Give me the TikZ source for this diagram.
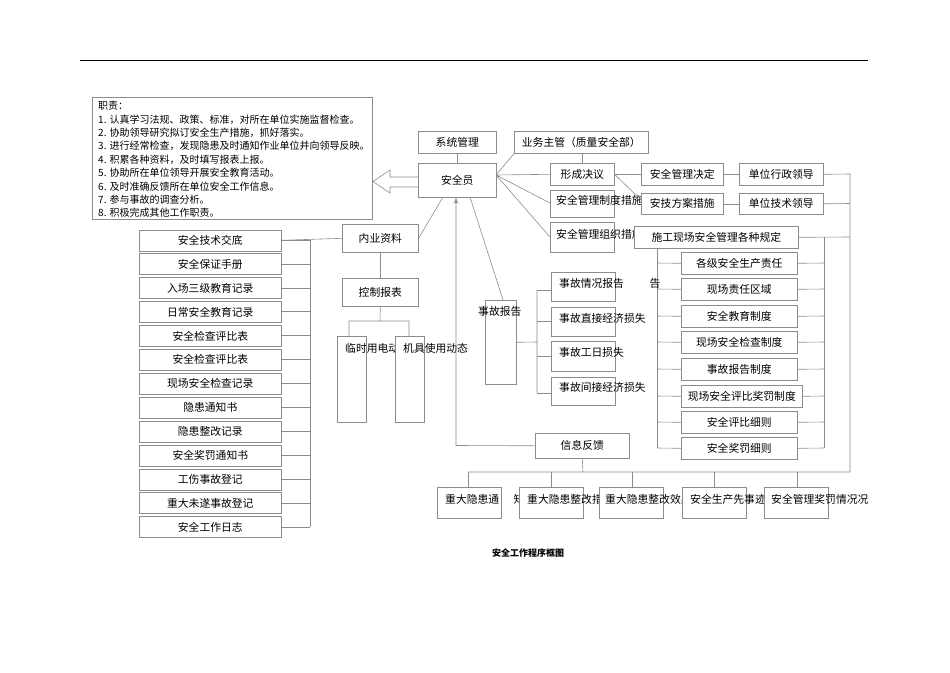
\documentclass[tikz,border=0pt]{standalone}
\usepackage{fontspec}
\usetikzlibrary{arrows.meta}
\setmainfont{Noto Sans CJK SC}
\begin{document}
\begin{tikzpicture}[x=1pt,y=-1pt,font=\fontsize{10.8}{13.5}\selectfont,
  ln/.style={draw=black!45,line width=0.6pt},
  boxst/.style={ln,fill=white,inner sep=0pt,anchor=north west},
  txt/.style={inner sep=0pt}]
\newcommand\bx[6]{\node[boxst,minimum width={(#4)*1pt-(#2)*1pt},minimum height={(#5)*1pt-(#3)*1pt}] (#1) at (#2,#3) {};
  \node[txt] (#1t) at (#1.center) {#6};}
\newcommand\bxl[7]{\node[boxst,minimum width={(#4)*1pt-(#2)*1pt},minimum height={(#5)*1pt-(#3)*1pt}] (#1) at (#2,#3) {};
  \node[txt,anchor=west] (#1t) at (#6) {#7};}
\useasboundingbox (0,0) rectangle (950,672);
\draw[black,line width=0.8pt] (80,60) -- (868,60);
% duties
\node[boxst,minimum width=280pt,minimum height=122pt] (duty) at (92,97) {};
\node[txt,anchor=north west,align=left,font=\fontsize{10}{13.4}\selectfont] (dutyt) at (98,101) {职责：\\1. 认真学习法规、政策、标准，对所在单位实施监督检查。\\2. 协助领导研究拟订安全生产措施，抓好落实。\\3. 进行经常检查，发现隐患及时通知作业单位并向领导反映。\\4. 积累各种资料，及时填写报表上报。\\5. 协助所在单位领导开展安全教育活动。\\6. 及时准确反馈所在单位安全工作信息。\\7. 参与事故的调查分析。\\8. 积极完成其他工作职责。};
% left list trunk
\draw[ln] (310,240) -- (310,527);
\foreach \t [count=\i from 0] in {安全技术交底,安全保证手册,入场三级教育记录,日常安全教育记录,安全检查评比表,安全检查评比表,现场安全检查记录,隐患通知书,隐患整改记录,安全奖罚通知书,工伤事故登记,重大未遂事故登记,安全工作日志}{
  \pgfmathsetmacro\yc{240+23.9*\i}
  \pgfmathsetmacro\ya{\yc-10.5}
  \pgfmathsetmacro\yb{\yc+10.5}
  \draw[ln] (281,\yc) -- (310,\yc);
  \bx{L\i}{139}{\ya}{281}{\yb}{\t}
}
% center column
\bx{xt}{418}{131}{496}{153}{系统管理}
\bx{aqy}{418}{163}{496}{197}{安全员}
\draw[ln] (xt.south) -- (aqy.north);
\draw[ln] (418,177) -- (390,177) -- (390,170) -- (373,181.5) -- (390,193) -- (390,187) -- (418,187);
\bx{nz}{342}{224}{418}{252}{内业资料}
\draw[ln] (L0.east) -- (nz.west);
\draw[ln] (443,197) -- (nz.east);
\bx{kz}{342}{278}{418}{306}{控制报表}
\draw[ln] (nz.south) -- (kz.north);
\draw[ln] (kz.south) -- (380,321) (349,321) -- (409,321) (349,321) -- (349,336) (409,321) -- (409,336);
\bxl{ls}{337}{336}{366}{422}{345,348}{临时用电动态}
\bxl{jj}{395}{336}{424}{422}{403,348}{机具使用动态}
% right top
\bx{yw}{514}{131}{648}{153}{业务主管（质量安全部）}
\bx{xc}{550}{163}{614}{185}{形成决议}
\draw[ln] (yw.south -| xc.north) -- (xc.north);
\bxl{zd}{550}{190}{614}{217}{556,200}{安全管理制度措施}
\bxl{zz}{550}{222}{614}{252}{556,234}{安全管理组织措施}
\draw[ln] (496,175) -- (yw.south west) (496,175) -- (xc.west) (496,175) -- (550,203) (496,175) -- (550,237);
\draw[ln] (470,197) -- (503,300);
\bx{jd}{641}{163}{723}{185}{安全管理决定}
\draw[ln] (xc.east) -- (jd.west);
\draw[ln] (xc.east) -- (641,200);
\bx{fa}{641}{193}{723}{214}{安技方案措施}
\bx{xz}{739}{163}{823}{185}{单位行政领导}
\bx{js}{739}{193}{823}{214}{单位技术领导}
\draw[ln] (jd.east) -- (xz.west) (fa.east) -- (js.west);
\draw[ln] (xz.east) -- (850,174) -- (850,472) (js.east) -- (850,203.5);
\bx{gd}{634}{226}{798}{248}{施工现场安全管理各种规定}
\draw[ln] (gd.east) -- (850,237);
\draw[ln] (824,237) -- (824,448) (657,248) -- (657,448);
\node[txt] (gao) at (655,283) {告};
\foreach \t/\ya/\yb/\xr [count=\i] in {各级安全生产责任/252/274/797,现场责任区域/278/300/797,安全教育制度/305/327/797,现场安全检查制度/331/353/797,事故报告制度/358/380/797,现场安全评比奖罚制度/385/407/802,安全评比细则/411/433/797,安全奖罚细则/437/459/797}{
  \bx{R\i}{681}{\ya}{\xr}{\yb}{\t}
  \draw[ln] (657,{(\ya+\yb)/2}) -- (R\i.west) (R\i.east) -- (824,{(\ya+\yb)/2});
}
% accidents
\bxl{sg}{485}{300}{516}{384}{478,311}{事故报告}
\draw[ln] (sg.east) -- (537,342) (537,290) -- (537,393);
\bxl{A1}{551}{272}{615}{301}{559,283}{事故情况报告}
\bxl{A2}{551}{307}{615}{336}{559,318}{事故直接经济损失}
\bxl{A3}{551}{341}{615}{371}{559,352}{事故工日损失}
\bxl{A4}{551}{377}{615}{405}{559,387}{事故间接经济损失}
\draw[ln] (537,290) -- (551,290) (537,321) -- (551,321) (537,356) -- (551,356) (537,393) -- (551,393);
% feedback
\bx{xx}{535}{433}{629}{458}{信息反馈}
\draw[ln,-{Latex[length=6pt,width=4pt]}] (xx.west) -- (456,445.5) -- (456,197);
\draw[ln] (xx.south) -- (583,472) (468,472) -- (850,472);
\foreach \x in {468,551,632,714,797}{\draw[ln] (\x,472) -- (\x,487);}
\bxl{B1}{437}{487}{501}{518}{445,499}{重大隐患通}
\node[txt] (B1b) at (519,499) {知};
\bxl{B2}{519}{487}{583}{518}{527,499}{重大隐患整改措施}
\bxl{B3}{599}{487}{663}{518}{605,499}{重大隐患整改效果}
\bxl{B4}{682}{487}{746}{518}{690,499}{安全生产先事迹}
\bxl{B5}{764}{487}{828}{518}{771,499}{安全管理奖罚情况况}
\node[txt,font=\fontsize{9}{10}\selectfont\bfseries] (cap) at (528,553) {安全工作程序框图};
\end{tikzpicture}
\end{document}
